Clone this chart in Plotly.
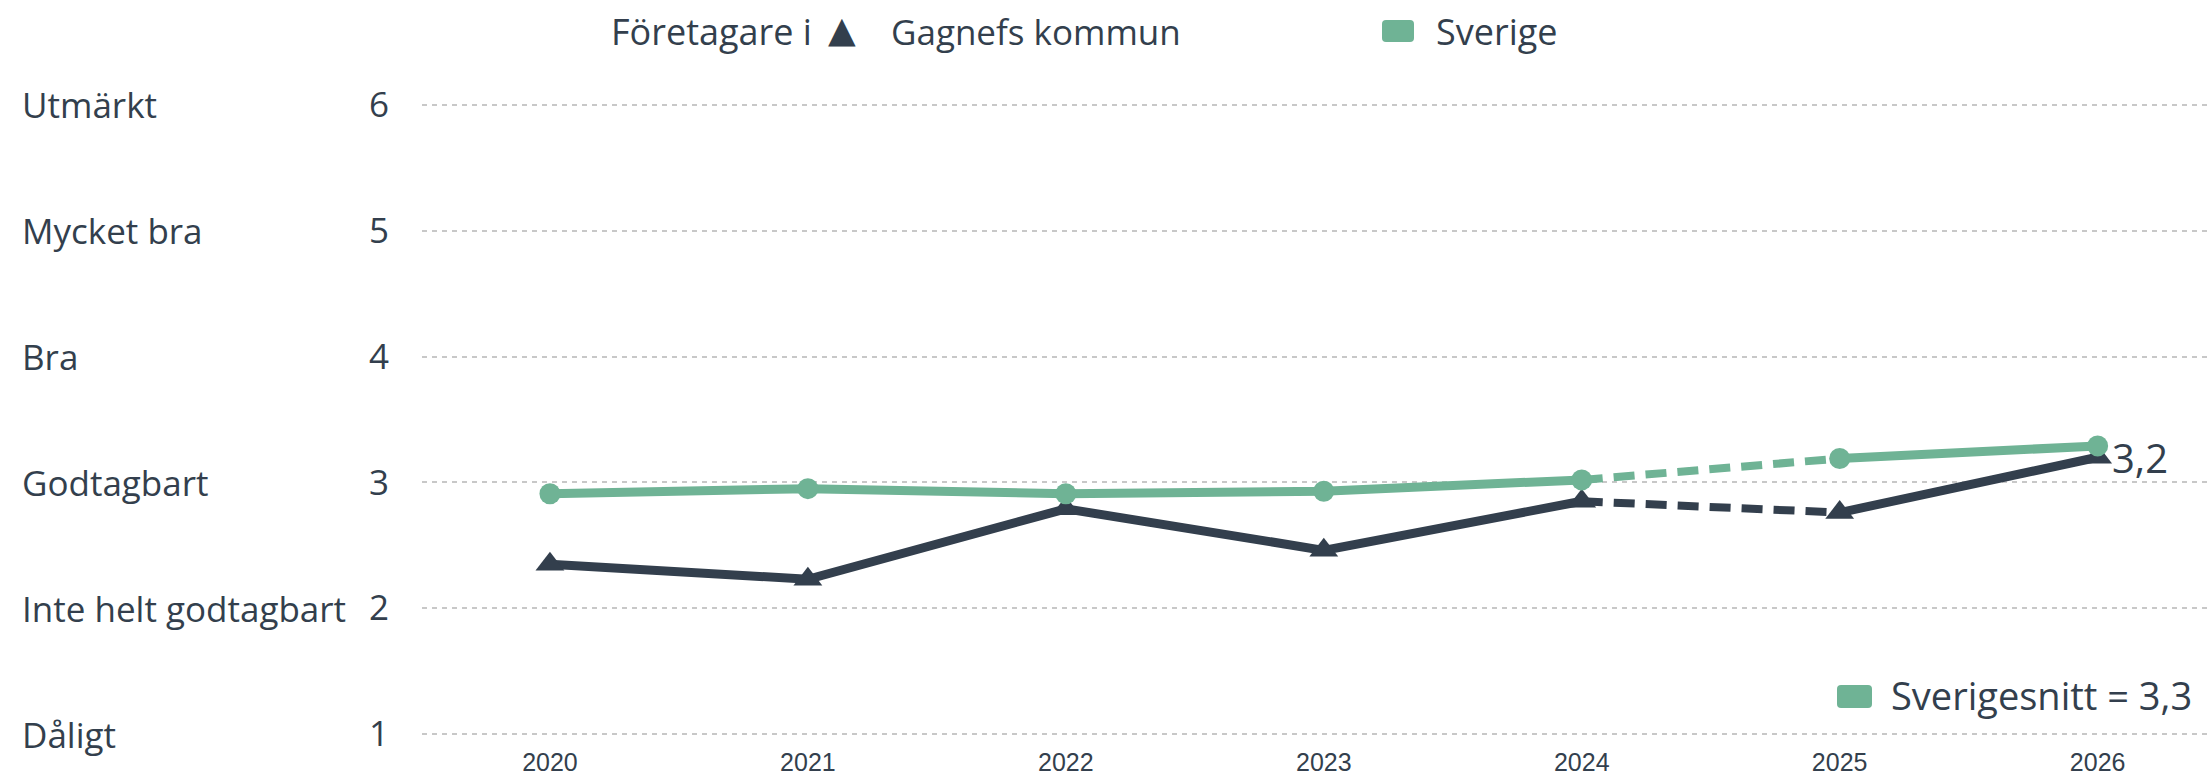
import plotly.graph_objects as go

years = [2020, 2021, 2022, 2023, 2024, 2025, 2026]
gagnef = [2.35, 2.23, 2.79, 2.46, 2.85, 2.76, 3.20]
sverige = [2.91, 2.95, 2.91, 2.93, 3.02, 3.19, 3.29]
y_ticks = [1, 2, 3, 4, 5, 6]
y_names = ["Dåligt", "Inte helt godtagbart", "Godtagbart", "Bra", "Mycket bra", "Utmärkt"]
label_gagnef = "3,2"
snitt_text = "Sverigesnitt = 3,3"

DARK = "#333F4D"
GREEN = "#6FB395"
FONT = "Open Sans"

W, H = 2211, 777
ML, MR, MT, MB = 422, 4, 100, 38
PW = W - ML - MR
PH = H - MT - MB


def px(xp):
    return (xp - ML) / PW


def py(yp):
    return (H - MB - yp) / PH


def rounded_rect(x0, y0, x1, y1, r):
    X = lambda v: px(v)
    Y = lambda v: py(v)
    return (f"M {X(x0+r)},{Y(y0)} L {X(x1-r)},{Y(y0)} Q {X(x1)},{Y(y0)} {X(x1)},{Y(y0+r)} "
            f"L {X(x1)},{Y(y1-r)} Q {X(x1)},{Y(y1)} {X(x1-r)},{Y(y1)} "
            f"L {X(x0+r)},{Y(y1)} Q {X(x0)},{Y(y1)} {X(x0)},{Y(y1-r)} "
            f"L {X(x0)},{Y(y0+r)} Q {X(x0)},{Y(y0)} {X(x0+r)},{Y(y0)} Z")


def segments(xs, ys):
    i24 = xs.index(2024)
    i25 = xs.index(2025)
    sx = xs[:i24 + 1] + [None] + xs[i25:]
    sy = ys[:i24 + 1] + [None] + ys[i25:]
    dx = xs[i24:i25 + 1]
    dy = ys[i24:i25 + 1]
    return sx, sy, dx, dy


fig = go.Figure()

for vals, color, sym, size in [(gagnef, DARK, "triangle-up", 25), (sverige, GREEN, "circle", 21)]:
    sx, sy, dx, dy = segments(years, vals)
    fig.add_trace(go.Scatter(x=sx, y=sy, mode="lines", line=dict(color=color, width=9),
                             showlegend=False, hoverinfo="skip", connectgaps=False))
    fig.add_trace(go.Scatter(x=dx, y=dy, mode="lines", line=dict(color=color, width=8, dash="21px,11px"),
                             showlegend=False, hoverinfo="skip"))
    fig.add_trace(go.Scatter(x=years, y=vals, mode="markers",
                             marker=dict(symbol=sym, size=size, color=color, line=dict(width=0)),
                             showlegend=False))

annotations = []
for v, name in zip(y_ticks, y_names):
    annotations.append(dict(x=px(20), y=v, xref="paper", yref="y", text=name, showarrow=False,
                            xanchor="left", yanchor="middle", font=dict(family=FONT, size=35, color=DARK)))

annotations.append(dict(x=years[-1], y=gagnef[-1], xref="x", yref="y", text=label_gagnef, showarrow=False,
                        xanchor="left", yanchor="middle", xshift=12,
                        font=dict(family=FONT, size=40, color=DARK)))

annotations.append(dict(x=px(609), y=py(31), xref="paper", yref="paper", text="Företagare i", showarrow=False,
                        xanchor="left", yanchor="middle", font=dict(family=FONT, size=36, color=DARK)))
annotations.append(dict(x=px(842), y=py(30), xref="paper", yref="paper", text="▲", showarrow=False,
                        xanchor="center", yanchor="middle", font=dict(family="DejaVu Sans", size=36, color=DARK)))
annotations.append(dict(x=px(889), y=py(31), xref="paper", yref="paper", text="Gagnefs kommun", showarrow=False,
                        xanchor="left", yanchor="middle", font=dict(family=FONT, size=35, color=DARK)))
annotations.append(dict(x=px(1434), y=py(31), xref="paper", yref="paper", text="Sverige", showarrow=False,
                        xanchor="left", yanchor="middle", font=dict(family=FONT, size=36, color=DARK)))
annotations.append(dict(x=px(1889), y=py(695), xref="paper", yref="paper", text=snitt_text, showarrow=False,
                        xanchor="left", yanchor="middle", font=dict(family=FONT, size=38, color=DARK)))

shapes = [
    dict(type="path", xref="paper", yref="paper", path=rounded_rect(1382, 20, 1414, 42, 4),
         fillcolor=GREEN, line=dict(width=0), layer="above"),
    dict(type="path", xref="paper", yref="paper", path=rounded_rect(1837, 685, 1872, 708, 4),
         fillcolor=GREEN, line=dict(width=0), layer="above"),
]

fig.update_layout(
    width=W, height=H,
    margin=dict(l=ML, r=MR, t=MT, b=MB, pad=0),
    paper_bgcolor="white", plot_bgcolor="white",
    annotations=annotations, shapes=shapes,
    showlegend=False,
    xaxis=dict(range=[2019.504, 2026.424], tickmode="array", tickvals=years, automargin=False,
               ticktext=[str(y) for y in years], showgrid=False, zeroline=False, showline=False,
               ticks="", ticklabelstandoff=6,
               tickfont=dict(family="Liberation Sans", size=25, color=DARK)),
    yaxis=dict(range=[0.9603, 6.0397], tickmode="array", tickvals=y_ticks, automargin=False,
               ticktext=[str(v) for v in y_ticks], showgrid=True, gridcolor="#C8C8C8", gridwidth=1.5,
               griddash="5px,5px", zeroline=False, showline=False, ticks="", ticklabelstandoff=32,
               tickfont=dict(family=FONT, size=35, color=DARK)),
)

fig.write_html("out.html", config={"displayModeBar": False},
               post_script="document.body.style.margin='0';document.body.style.overflow='hidden';")
